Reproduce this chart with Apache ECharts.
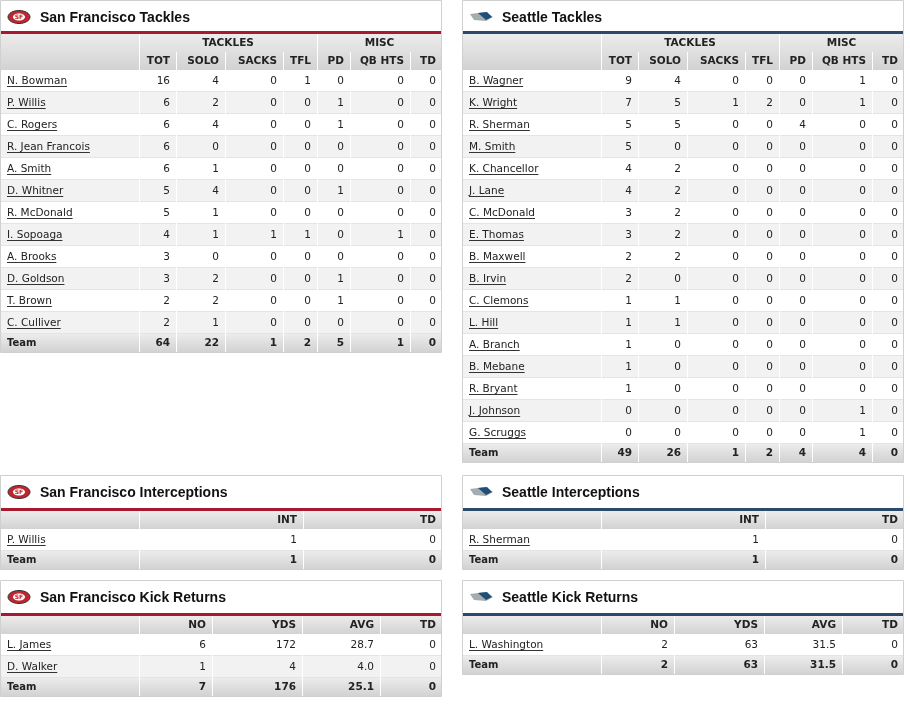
<!DOCTYPE html>
<html>
<head>
<meta charset="utf-8">
<script src="https://cdn.jsdelivr.net/npm/echarts@6/dist/echarts.min.js"></script>
<style>body{margin:0;background:#fff}</style>
</head>
<body>
<div id="main" style="width:910px;height:720px;"></div>
<script type="text/javascript">
// data
var tackleCols = ['TOT', 'SOLO', 'SACKS', 'TFL', 'PD', 'QB HTS', 'TD'];
var sfTacklePlayers = ['N. Bowman', 'P. Willis', 'C. Rogers', 'R. Jean Francois', 'A. Smith', 'D. Whitner',
    'R. McDonald', 'I. Sopoaga', 'A. Brooks', 'D. Goldson', 'T. Brown', 'C. Culliver'];
var sfTackleStats = [
    [16, 4, 0, 1, 0, 0, 0], [6, 2, 0, 0, 1, 0, 0], [6, 4, 0, 0, 1, 0, 0], [6, 0, 0, 0, 0, 0, 0],
    [6, 1, 0, 0, 0, 0, 0], [5, 4, 0, 0, 1, 0, 0], [5, 1, 0, 0, 0, 0, 0], [4, 1, 1, 1, 0, 1, 0],
    [3, 0, 0, 0, 0, 0, 0], [3, 2, 0, 0, 1, 0, 0], [2, 2, 0, 0, 1, 0, 0], [2, 1, 0, 0, 0, 0, 0]];
var sfTackleTeam = [64, 22, 1, 2, 5, 1, 0];
var seaTacklePlayers = ['B. Wagner', 'K. Wright', 'R. Sherman', 'M. Smith', 'K. Chancellor', 'J. Lane',
    'C. McDonald', 'E. Thomas', 'B. Maxwell', 'B. Irvin', 'C. Clemons', 'L. Hill', 'A. Branch',
    'B. Mebane', 'R. Bryant', 'J. Johnson', 'G. Scruggs'];
var seaTackleStats = [
    [9, 4, 0, 0, 0, 1, 0], [7, 5, 1, 2, 0, 1, 0], [5, 5, 0, 0, 4, 0, 0], [5, 0, 0, 0, 0, 0, 0],
    [4, 2, 0, 0, 0, 0, 0], [4, 2, 0, 0, 0, 0, 0], [3, 2, 0, 0, 0, 0, 0], [3, 2, 0, 0, 0, 0, 0],
    [2, 2, 0, 0, 0, 0, 0], [2, 0, 0, 0, 0, 0, 0], [1, 1, 0, 0, 0, 0, 0], [1, 1, 0, 0, 0, 0, 0],
    [1, 0, 0, 0, 0, 0, 0], [1, 0, 0, 0, 0, 0, 0], [1, 0, 0, 0, 0, 0, 0], [0, 0, 0, 0, 0, 1, 0],
    [0, 0, 0, 0, 0, 1, 0]];
var seaTackleTeam = [49, 26, 1, 2, 4, 4, 0];

var intCols = ['INT', 'TD'];
var sfIntPlayers = ['P. Willis'];
var sfIntStats = [[1, 0]];
var sfIntTeam = [1, 0];
var seaIntPlayers = ['R. Sherman'];
var seaIntStats = [[1, 0]];
var seaIntTeam = [1, 0];

var krCols = ['NO', 'YDS', 'AVG', 'TD'];
var sfKrPlayers = ['L. James', 'D. Walker'];
var sfKrStats = [[6, 172, '28.7', 0], [1, 4, '4.0', 0]];
var sfKrTeam = [7, 176, '25.1', 0];
var seaKrPlayers = ['L. Washington'];
var seaKrStats = [[2, 63, '31.5', 0]];
var seaKrTeam = [2, 63, '31.5', 0];

var FONT = 'DejaVu Sans, Verdana, sans-serif';
var gradHead = {type: 'linear', x: 0, y: 0, x2: 0, y2: 1,
    colorStops: [{offset: 0, color: '#ececec'}, {offset: 1, color: '#d2d2d2'}]};
var els = [];
var measureCtx = document.createElement('canvas').getContext('2d');

function txt(x, y, s, opt) {
    opt = opt || {};
    var font = (opt.bold ? 'bold ' : '') + (opt.size || 11) + 'px ' + (opt.family || FONT);
    els.push({type: 'text', x: x, y: y, silent: true, style: {
        text: String(s), fill: opt.color || '#222', font: font,
        textAlign: opt.align || 'left', textVerticalAlign: 'middle'}});
    if (opt.underline) {
        measureCtx.font = font;
        var w = measureCtx.measureText(String(s)).width;
        els.push({type: 'line', silent: true, shape: {x1: x, y1: y + 5.5, x2: x + w, y2: y + 5.5}, style: {stroke: '#333', lineWidth: 1}});
    }
}
function rect(x, y, w, h, fill, stroke) {
    els.push({type: 'rect', silent: true, shape: {x: x, y: y, width: w, height: h}, style: {fill: fill, stroke: stroke || null, lineWidth: 1}});
}
function vline(x, y1, y2, c) {
    els.push({type: 'line', silent: true, shape: {x1: x, y1: y1, x2: x, y2: y2}, style: {stroke: c || '#fff', lineWidth: 1}});
}
function logo(x, y, team) {
    if (team === 'sf') {
        els.push({type: 'ellipse', silent: true, shape: {cx: x + 11, cy: y, rx: 11, ry: 6.5}, style: {fill: '#c0262f', stroke: '#333', lineWidth: 1}});
        els.push({type: 'ellipse', silent: true, shape: {cx: x + 11, cy: y, rx: 6, ry: 3.5}, style: {fill: '#fff'}});
        txt(x + 11, y, 'SF', {size: 6, bold: true, color: '#c0262f', align: 'center'});
    } else {
        els.push({type: 'polygon', silent: true, shape: {points: [[x, y - 3], [x + 16, y - 5], [x + 23, y], [x + 16, y + 4], [x + 4, y + 3]]},
            style: {fill: '#a5acaf'}});
        els.push({type: 'polygon', silent: true, shape: {points: [[x + 8, y - 4], [x + 17, y - 5], [x + 22, y], [x + 16, y + 3]]},
            style: {fill: '#1f4e79'}});
    }
}

function table(px, py, title, team, groups, cols, edges, players, stats, totals, head2) {
    var W = 441, line = team === 'sf' ? '#a6192e' : '#2a4a6b';
    var top = py + (head2 ? 34 : 36), rowH = 22;
    var nRows = players.length;
    var headH = head2 ? 36 : 18;
    var bottom = top + headH + nRows * rowH + 18;
    rect(px + 0.5, py + 0.5, W, bottom - py, '#fff', '#d0d0d0');
    logo(px + 8, py + 17, team);
    txt(px + 40, py + 18, title, {size: 14, bold: true, color: '#111', family: 'Liberation Sans, Arial, sans-serif'});
    rect(px + 1, top - 3, W - 1, 3, line);
    rect(px + 1, top, W - 1, headH, gradHead);
    if (head2) {
        groups.forEach(function (g) {
            txt((edges[g[1]] + edges[g[2]]) / 2 + px, top + 9, g[0], {bold: true, size: 10.5, align: 'center'});
            vline(px + edges[g[1]] + 0.5, top, top + headH);
        });
    }
    var hy = top + headH - 9;
    cols.forEach(function (c, i) {
        vline(px + edges[i] + 0.5, top + (head2 ? 18 : 0), top + headH);
        txt(px + edges[i + 1] - 6, hy, c, {bold: true, size: 10.5, align: 'right'});
    });
    var y = top + headH;
    players.forEach(function (p, r) {
        rect(px + 1, y, W - 1, rowH, r % 2 ? '#f2f2f2' : '#fff');
        els.push({type: 'line', silent: true, shape: {x1: px + 1, y1: y + rowH - 0.5, x2: px + W, y2: y + rowH - 0.5}, style: {stroke: '#e4e4e4'}});
        txt(px + 7, y + 11, p, {underline: true, size: 10.5});
        stats[r].forEach(function (v, i) {
            txt(px + edges[i + 1] - 6, y + 11, v, {align: 'right', size: 10.5});
        });
        y += rowH;
    });
    rect(px + 1, y, W - 1, 18, gradHead);
    txt(px + 7, y + 9, 'Team', {bold: true, size: 10});
    totals.forEach(function (v, i) {
        txt(px + edges[i + 1] - 6, y + 9, v, {bold: true, size: 10.5, align: 'right'});
    });
    cols.forEach(function (c, i) { vline(px + edges[i] + 0.5, top + headH, bottom); });
}

var tEdges = [139, 176, 225, 283, 317, 350, 410, 442];
var tGroups = [['TACKLES', 0, 4], ['MISC', 4, 7]];
table(0, 0, 'San Francisco Tackles', 'sf', tGroups, tackleCols, tEdges, sfTacklePlayers, sfTackleStats, sfTackleTeam, true);
table(462, 0, 'Seattle Tackles', 'sea', tGroups, tackleCols, tEdges, seaTacklePlayers, seaTackleStats, seaTackleTeam, true);
var iEdges = [139, 303, 442];
table(0, 475, 'San Francisco Interceptions', 'sf', null, intCols, iEdges, sfIntPlayers, sfIntStats, sfIntTeam, false);
table(462, 475, 'Seattle Interceptions', 'sea', null, intCols, iEdges, seaIntPlayers, seaIntStats, seaIntTeam, false);
var kEdges = [139, 212, 302, 380, 442];
table(0, 580, 'San Francisco Kick Returns', 'sf', null, krCols, kEdges, sfKrPlayers, sfKrStats, sfKrTeam, false);
table(462, 580, 'Seattle Kick Returns', 'sea', null, krCols, kEdges, seaKrPlayers, seaKrStats, seaKrTeam, false);

var myChart = echarts.init(document.getElementById('main'));
myChart.setOption({animation: false, graphic: {elements: els}});
</script>
</body>
</html>
